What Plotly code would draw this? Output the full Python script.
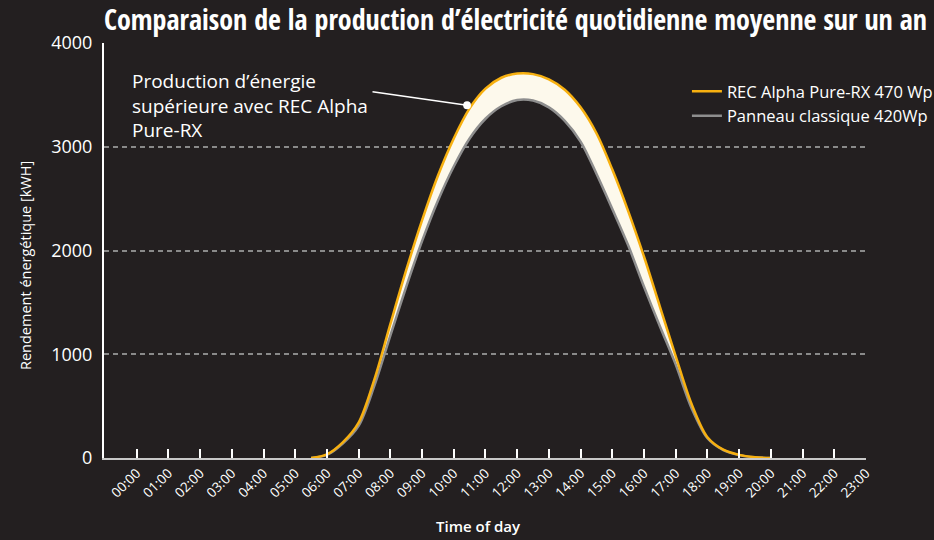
import plotly.graph_objects as go

# ---- data ----
hours = [5.5, 6.0, 6.5, 7.0, 7.5, 8.0, 8.5, 9.0, 9.5, 10.0, 10.5, 11.0, 11.5, 12.0, 12.5,
         13.0, 13.5, 14.0, 14.5, 15.0, 15.5, 16.0, 16.5, 17.0, 17.5, 18.0, 18.5, 19.0, 19.5, 20.0]
rec_alpha = [0, 35, 150, 340, 760, 1290, 1810, 2290, 2720, 3080, 3370, 3560, 3665, 3705, 3700,
             3650, 3550, 3380, 3130, 2780, 2380, 1940, 1460, 980, 520, 200, 80, 30, 8, 0]
classique = [0, 30, 140, 310, 700, 1180, 1650, 2090, 2480, 2810, 3080, 3270, 3390, 3450, 3445,
             3380, 3250, 3050, 2740, 2400, 2050, 1650, 1270, 900, 480, 190, 76, 28, 7, 0]
tick_hours = list(range(24))
tick_labels = [f"{h:02d}:00" for h in tick_hours]
y_ticks = [0, 1000, 2000, 3000, 4000]

BG = "#231f20"
YELLOW = "#f7b010"
GREY = "#8e8e8e"
FILL = "#fdf9ec"
FONT = "Open Sans"
TITLE_FONT = "Open Sans Condensed, Roboto Condensed, DejaVu Sans Condensed, Liberation Sans Narrow, Lato"

SPL = dict(shape="spline", smoothing=0.9)

fig = go.Figure()
# fill band between the two curves
fig.add_trace(go.Scatter(x=hours, y=classique, mode="lines", line=dict(width=0, **SPL),
                         showlegend=False, hoverinfo="skip"))
fig.add_trace(go.Scatter(x=hours, y=rec_alpha, mode="lines", line=dict(width=0, **SPL),
                         fill="tonexty", fillcolor=FILL, showlegend=False, hoverinfo="skip"))
# visible lines
fig.add_trace(go.Scatter(x=hours, y=classique, mode="lines", name="Panneau classique 420Wp",
                         line=dict(color=GREY, width=2.5, **SPL), legendrank=2))
fig.add_trace(go.Scatter(x=hours, y=rec_alpha, mode="lines", name="REC Alpha Pure-RX 470 Wp",
                         line=dict(color=YELLOW, width=2.5, **SPL), legendrank=1))

fig.update_layout(
    width=934, height=540,
    paper_bgcolor=BG, plot_bgcolor=BG,
    margin=dict(l=104, r=68, t=43, b=82, autoexpand=False),
    font=dict(family=FONT, color="white"),
    title=dict(text="Comparaison de la production d’électricité quotidienne moyenne sur un an",
               font=dict(family=TITLE_FONT, size=28, color="white", weight="bold"),
               x=0, xanchor="left", xref="paper", y=0.962, yanchor="middle", yref="container"),
    showlegend=True,
    legend=dict(x=0.765, y=0.925, xanchor="left", yanchor="top", bgcolor="rgba(0,0,0,0)",
                traceorder="normal", font=dict(size=16.5, color="white", family=FONT), tracegroupgap=0),
)

fig.update_xaxes(
    range=[-1.03, 23], tickvals=tick_hours, ticktext=tick_labels, tickangle=-45,
    tickfont=dict(size=13.5, color="white", family=FONT), automargin=False,
    showline=True, linecolor="#c8c8c8", linewidth=2,
    ticks="inside", ticklen=9, tickcolor="white", tickwidth=1.5,
    showgrid=False, zeroline=False,
)
fig.update_yaxes(
    range=[0, 4000], tickvals=y_ticks, automargin=False,
    tickfont=dict(size=18, color="white", family=FONT),
    showline=True, linecolor="white", linewidth=2,
    showgrid=True, gridcolor="#8a8a8a", griddash="5px,4px", gridwidth=1.5,
    zeroline=False, ticks="", ticklabelstandoff=6,
)

# axis titles placed as annotations (to match reference positions)
fig.add_annotation(x=-0.1037, y=0.465, xref="paper", yref="paper", xanchor="center", yanchor="middle",
                   text="Rendement énergétique [kWH]", textangle=-90, showarrow=False,
                   font=dict(size=14.5, color="white", family=FONT))
fig.add_annotation(x=0.491, y=-0.163, xref="paper", yref="paper", xanchor="center", yanchor="middle",
                   text="Time of day", showarrow=False,
                   font=dict(size=15, color="white", family=FONT, weight=600))

fig.add_annotation(x=-0.21, y=3775, xref="x", yref="y", xanchor="left", yanchor="top", align="left",
                   text="Production d’énergie<br>supérieure avec REC Alpha<br>Pure-RX",
                   showarrow=False, font=dict(size=19, color="white", family=FONT))
fig.add_annotation(x=10.42, y=3400, xref="x", yref="y", ax=7.39, ay=3533, axref="x", ayref="y",
                   text="", showarrow=True, arrowhead=6, arrowsize=1.3, arrowwidth=1.5, arrowcolor="white")

fig.write_html("out.html", config={"displayModeBar": False},
               post_script="document.body.style.margin='0px';")
